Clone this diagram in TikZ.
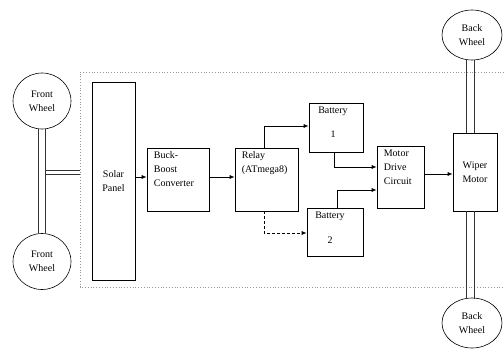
\documentclass[tikz,border=0pt]{standalone}
\usepackage{fontspec}
\setmainfont{Liberation Serif}
\usetikzlibrary{arrows.meta,shapes.geometric}
\begin{document}
\begin{tikzpicture}[x=1pt,y=-1pt,
  every node/.style={font=\fontsize{10}{14}\selectfont, inner sep=0pt},
  blockbox/.style={draw, line width=0.7pt, rectangle},
  wheel/.style={draw, line width=0.6pt, ellipse, align=center},
  wire/.style={line width=0.7pt},
  flow/.style={wire, -{Latex[length=5pt,width=4pt]}},
  ctrl/.style={flow, dash pattern=on 3pt off 2pt},
  axle/.style={line width=0.7pt, draw=black!80},
  frameline/.style={draw=black!40, line width=0.8pt, dotted}]
\useasboundingbox (0,0) rectangle (504,351);

% dotted enclosure of the vehicle body
\coordinate (frTL) at (504,72);
\coordinate (frL1) at (80,72);
\coordinate (frL2) at (80,287);
\coordinate (frBR) at (504,287);
\draw[frameline] (frTL) -- (frL1) -- (frL2) -- (frBR);

% wheels
\node[wheel, minimum width=58pt, minimum height=56pt] (fw1) at (42,101) {Front\\Wheel};
\node[wheel, minimum width=58pt, minimum height=56pt] (fw2) at (42,261.5) {Front\\Wheel};
\node[wheel, minimum width=60pt, minimum height=50pt] (bw1) at (472,35) {Back\\Wheel};
\node[wheel, minimum width=60pt, minimum height=50pt] (bw2) at (472,323) {Back\\Wheel};

% blocks
\node[blockbox, minimum width=43pt, minimum height=198pt, align=center] (solar) at (113.5,181) {Solar\\Panel};
\node[blockbox, minimum width=62pt, minimum height=63pt] (buck) at (178,179.5) {};
\node[anchor=north west, align=left] (bucktxt) at ([xshift=7pt,yshift=-4pt]buck.north west) {Buck-\\Boost\\Converter};
\node[blockbox, minimum width=63pt, minimum height=63pt] (relay) at (266.5,179.5) {};
\node[anchor=north west, align=left] (relaytxt) at ([xshift=7pt,yshift=-4pt]relay.north west) {Relay\\(ATmega8)};
\node[blockbox, minimum width=54pt, minimum height=49pt] (bat1) at (336,127.5) {};
\node[anchor=north, align=center] (bat1txt) at ([xshift=-3pt,yshift=-4pt]bat1.north) {Battery\\[10pt]1};
\node[blockbox, minimum width=56pt, minimum height=48pt] (bat2) at (335,232) {};
\node[anchor=north, align=center] (bat2txt) at ([xshift=-5pt,yshift=-4pt]bat2.north) {Battery\\[11pt]2};
\node[blockbox, minimum width=47pt, minimum height=62pt] (drive) at (400.5,177) {};
\node[anchor=north west, align=left] (drivetxt) at ([xshift=7pt,yshift=-4pt]drive.north west) {Motor\\Drive\\Circuit};
\node[blockbox, minimum width=44pt, minimum height=78pt, align=center] (wiper) at (475,172) {Wiper\\Motor};

% front axle and its link to the body
\draw[axle] ([xshift=-3.5pt]fw1.south) -- ([xshift=-3.5pt]fw2.north);
\draw[axle] ([xshift=3.5pt]fw1.south) -- ([xshift=3.5pt]fw2.north);
\coordinate (lk1) at (45.5,170);
\coordinate (lk2) at (45.5,174);
\draw[axle] (lk1) -- (lk1 -| frL1);
\draw[axle] (lk2) -- (lk2 -| frL1);

% rear axle through the wiper motor
\draw[axle] (466,59.5) -- (wiper.north -| 466,0);
\draw[axle] (474,59.5) -- (wiper.north -| 474,0);
\draw[axle] (wiper.south -| 466,0) -- (466,298.5);
\draw[axle] (wiper.south -| 474,0) -- (474,298.5);

% energy flow
\draw[flow] (solar.east |- 0,177) -- (buck.west |- 0,177);
\draw[flow] (buck.east |- 0,177) -- (relay.west |- 0,177);
\draw[flow] (relay.north -| 264,0) |- (bat1.west |- 0,126);
\draw[ctrl] (relay.south -| 264,0) |- (bat2.west |- 0,233);
\draw[flow] (bat1.south -| 334,0) |- (drive.west |- 0,167);
\draw[flow] (bat2.north -| 337,0) |- (drive.west |- 0,190);
\draw[flow] (drive.east |- 0,174) -- (wiper.west |- 0,174);
\end{tikzpicture}
\end{document}
